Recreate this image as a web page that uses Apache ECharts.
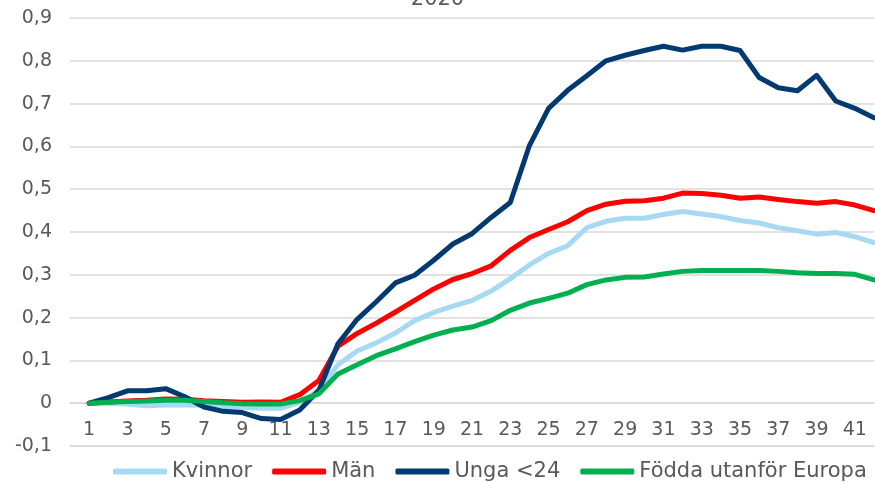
<!DOCTYPE html>
<html>
<head>
<meta charset="utf-8">
<script src="https://cdn.jsdelivr.net/npm/echarts@6/dist/echarts.min.js"></script>
<style>html,body{margin:0;padding:0;background:#fff}#c{width:875px;height:484px}</style>
</head>
<body>
<div id="c"></div>
<script>
var weeks = [];
for (var w = 1; w <= 42; w++) weeks.push(String(w));

var kvinnor = [0,0,-0.002,-0.006,-0.004,-0.004,-0.005,-0.008,-0.01,-0.012,-0.012,0.002,0.03,0.09,0.122,0.141,0.164,0.193,0.212,0.227,0.24,0.262,0.291,0.323,0.35,0.368,0.41,0.425,0.432,0.432,0.441,0.448,0.442,0.436,0.427,0.421,0.41,0.403,0.395,0.399,0.389,0.375];
var man = [0,0.003,0.005,0.007,0.01,0.009,0.006,0.004,0.002,0.003,0.002,0.02,0.053,0.133,0.163,0.187,0.213,0.24,0.267,0.289,0.303,0.321,0.357,0.387,0.406,0.424,0.45,0.465,0.472,0.473,0.479,0.491,0.49,0.486,0.479,0.482,0.476,0.471,0.467,0.471,0.463,0.45];
var unga = [0,0.013,0.029,0.029,0.034,0.015,-0.009,-0.019,-0.022,-0.036,-0.038,-0.016,0.03,0.139,0.196,0.237,0.281,0.299,0.334,0.372,0.396,0.434,0.469,0.602,0.689,0.731,0.765,0.8,0.813,0.824,0.834,0.825,0.834,0.834,0.824,0.761,0.737,0.73,0.766,0.706,0.689,0.667];
var fodda = [0,0.002,0.004,0.005,0.007,0.007,0.004,0.001,-0.001,-0.002,-0.002,0.006,0.022,0.068,0.09,0.111,0.127,0.144,0.159,0.171,0.178,0.193,0.217,0.234,0.245,0.257,0.277,0.288,0.294,0.295,0.302,0.308,0.31,0.31,0.31,0.31,0.308,0.305,0.303,0.303,0.301,0.288];
var seriesNames = ['Kvinnor', 'Män', 'Unga <24', 'Födda utanför Europa'];
var titleText = '2020';

var FONT = 'DejaVu Sans';
var chart = echarts.init(document.getElementById('c'), null, {renderer: 'canvas'});
function pad(arr) { return [null].concat(arr); }
function mk(name, data, color) {
  return {
    name: name, type: 'line', data: pad(data), symbol: 'none', showSymbol: false,
    xAxisIndex: 0, connectNulls: false, animation: false,
    lineStyle: {color: color, width: 5, cap: 'round', join: 'round'},
    itemStyle: {color: color}
  };
}
chart.setOption({
  animation: false,
  title: {text: titleText, left: 'center', top: -16, textStyle: {fontFamily: FONT, fontSize: 21, fontWeight: 'normal', color: '#595959'}},
  grid: {left: 70, right: 1, top: 18, bottom: 38, containLabel: false, outerBoundsMode: 'none'},
  legend: {
    data: seriesNames, left: 108, top: 456, itemGap: 20, itemWidth: 54, itemHeight: 6, icon: 'roundRect',
    textStyle: {fontFamily: FONT, fontSize: 21, color: '#595959'}
  },
  xAxis: [{
    type: 'category', boundaryGap: false, data: [''].concat(weeks),
    position: 'bottom', offset: -43,
    axisLine: {show: true, onZero: false, lineStyle: {color: '#d9d9d9', width: 1.5}},
    axisTick: {show: false},
    axisLabel: {interval: function (i) { return i % 2 === 1; }, margin: 18, fontFamily: FONT, fontSize: 19, color: '#595959'},
    splitLine: {show: false}
  }, {
    type: 'category', boundaryGap: false, data: [''].concat(weeks),
    position: 'bottom', offset: 0,
    axisLine: {show: true, onZero: false, lineStyle: {color: '#d9d9d9', width: 1.5}},
    axisTick: {show: false}, axisLabel: {show: false}, splitLine: {show: false}
  }],
  yAxis: {
    type: 'value', min: -0.1, max: 0.9, interval: 0.1,
    axisLine: {show: false}, axisTick: {show: false},
    axisLabel: {margin: 18, fontFamily: FONT, fontSize: 19, color: '#595959',
      formatter: function (v) { var r = Math.round(v * 10) / 10; return String(r).replace('.', ','); }},
    splitLine: {show: true, showMinLine: true, showMaxLine: true, lineStyle: {color: '#d9d9d9', width: 1.5}}
  },
  series: [
    mk(seriesNames[0], kvinnor, '#a6d9f3'),
    mk(seriesNames[1], man, '#ff0000'),
    mk(seriesNames[2], unga, '#003a70'),
    mk(seriesNames[3], fodda, '#00b050')
  ]
});
</script>
</body>
</html>
